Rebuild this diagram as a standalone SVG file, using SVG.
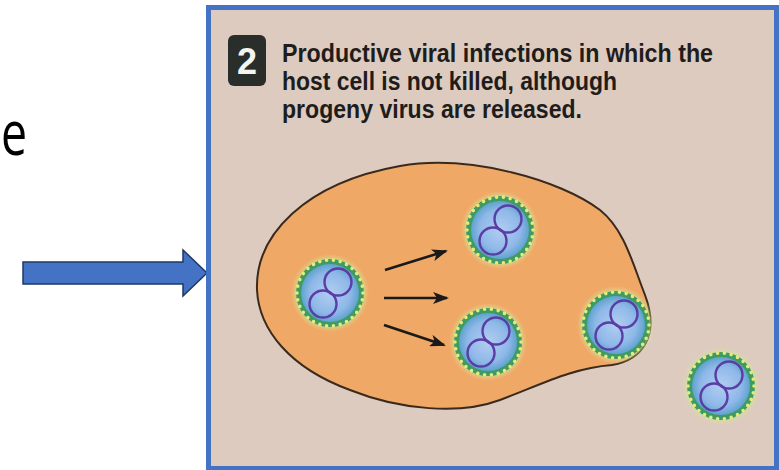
<svg xmlns="http://www.w3.org/2000/svg" width="779" height="470" viewBox="0 0 779 470">
  <style>
    .caption { font-family: "Liberation Sans", Arial, sans-serif; font-weight: bold; font-size: 26px; fill: #1f1d1c; }
    .badge-num { font-family: "Liberation Sans", Arial, sans-serif; font-weight: bold; font-size: 36px; fill: #f4f4f0; }
    .side-text { font-family: "Open Sans", "Liberation Sans", sans-serif; font-size: 62px; fill: #000000; }
    .flow { stroke: #1b1a1a; stroke-width: 2.6; fill: none; marker-end: url(#head); }
    .loop { fill: none; stroke: #5a3ea6; stroke-width: 2.4; }
  </style>
  <defs>
    <marker id="head" viewBox="0 0 16 12" refX="14" refY="6" markerWidth="16" markerHeight="12" markerUnits="userSpaceOnUse" orient="auto">
      <path d="M0,0 L16,6 L0,12 L4,6 Z" fill="#1b1a1a"/>
    </marker>
    <radialGradient id="core" cx="50%" cy="50%" r="50%">
      <stop offset="0%" stop-color="#b2cdf2"/>
      <stop offset="70%" stop-color="#8fb8e8"/>
      <stop offset="100%" stop-color="#5fa3cf"/>
    </radialGradient>
    <radialGradient id="halo" cx="50%" cy="50%" r="50%">
      <stop offset="80%" stop-color="#c9e28a" stop-opacity="0.9"/>
      <stop offset="100%" stop-color="#d8e6a0" stop-opacity="0"/>
    </radialGradient>
    <!-- enveloped virion: spiky green coat, blue core, figure-eight genome -->
    <g id="virion">
      <circle r="39" fill="url(#halo)"/>
      <circle r="34" fill="#3f9a64"/>
      <circle r="33" fill="none" stroke="#e2ec7c" stroke-width="3.6" stroke-linecap="round" stroke-dasharray="0 6.9"/>
      <circle r="29" fill="url(#core)"/>
      <circle cx="8" cy="-11" r="13.5" fill="#c4b8ea" fill-opacity="0.35" class="loop"/>
      <circle cx="-7" cy="11" r="13.5" fill="#c4b8ea" fill-opacity="0.35" class="loop"/>
    </g>
  </defs>

  <!-- slide fragment on the left -->
  <g id="side-label">
    <text class="side-text" transform="translate(1,155) scale(0.75,1)" x="0" y="0">e</text>
  </g>
  <g id="pointer">
    <path d="M23,262 L183,262 L183,250 L207,273 L183,296 L183,284 L23,284 Z" fill="#4472c4" stroke="#1f3864" stroke-width="1.5" stroke-linejoin="miter"/>
  </g>

  <!-- framed panel -->
  <g id="panel">
    <rect x="208.5" y="7.5" width="568" height="461" fill="#ddcbbf" stroke="#4472c4" stroke-width="5"/>
  </g>

  <g id="heading">
    <rect x="228" y="35" width="38" height="51" rx="6" fill="#2a2e2b"/>
    <text class="badge-num" x="247" y="74" text-anchor="middle">2</text>
    <text class="caption" x="282" y="62" textLength="431" lengthAdjust="spacingAndGlyphs">Productive viral infections in which the</text>
    <text class="caption" x="282" y="90" textLength="335" lengthAdjust="spacingAndGlyphs">host cell is not killed, although</text>
    <text class="caption" x="282" y="118" textLength="300" lengthAdjust="spacingAndGlyphs">progeny virus are released.</text>
  </g>

  <!-- host cell -->
  <g id="host-cell">
    <path d="M257,290 C255,235 305,183 400,166 C470,154 560,180 600,210 C625,230 633,265 645,295 C660,335 643,360 612,365 C572,368 540,385 500,400 C460,415 400,410 350,390 C290,368 259,330 257,290 Z" fill="#f0a866" stroke="#3a2a1e" stroke-width="2"/>
  </g>

  <g id="virus-inside"><use href="#virion" x="330" y="293"/></g>
  <g id="virus-top"><use href="#virion" x="500" y="230"/></g>
  <g id="virus-middle"><use href="#virion" x="488" y="342"/></g>
  <g id="virus-budding"><use href="#virion" x="616" y="325"/></g>
  <g id="virus-released"><use href="#virion" x="721" y="386"/></g>

  <g id="connectors">
    <line class="flow" x1="385" y1="270" x2="446" y2="251"/>
    <line class="flow" x1="384" y1="298" x2="447" y2="298"/>
    <line class="flow" x1="384" y1="325" x2="444" y2="345"/>
  </g>
</svg>
